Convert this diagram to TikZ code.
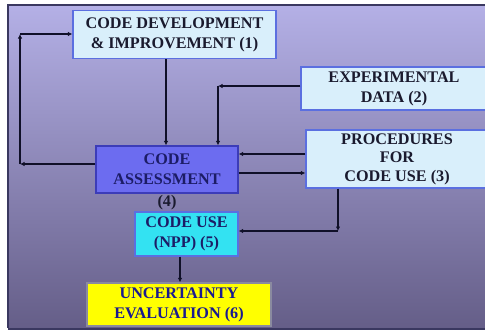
\documentclass[tikz,border=0pt]{standalone}
\usepackage{fontspec}
\setmainfont{Liberation Serif}
\usetikzlibrary{arrows.meta}
\definecolor{paneltop}{HTML}{B4B0E6}
\definecolor{panelbot}{HTML}{655E88}
\definecolor{panelrim}{HTML}{3A3860}
\definecolor{palefill}{HTML}{D9EFFB}
\definecolor{boxrim}{HTML}{5B6FE0}
\definecolor{assessfill}{HTML}{6C6CF0}
\definecolor{assessrim}{HTML}{3C3CB8}
\definecolor{usefill}{HTML}{33E2F2}
\definecolor{yellowfill}{HTML}{FFFF00}
\definecolor{yellowrim}{HTML}{8A8AA0}
\definecolor{inktext}{HTML}{1A1A2E}
\definecolor{navytext}{HTML}{1C1C66}
\definecolor{bluetext}{HTML}{1A1A90}
\definecolor{linkink}{HTML}{101028}
\tikzset{
  x=1pt, y=-1pt,
  boxfont/.style={font=\fontsize{16.2}{20}\selectfont\bfseries},
  box/.style={draw=boxrim, line width=1.2pt, fill=palefill, align=center,
    inner sep=0pt, text=inktext, boxfont},
  link/.style={draw=linkink, line width=1.9pt,
    -{Latex[length=4.5pt,width=4.5pt]}},
}
\begin{document}
\begin{tikzpicture}
\useasboundingbox (0,0) rectangle (485,330);
\fill[white] (0,0) rectangle (485,330);
% graded panel behind the chart
\shade[top color=paneltop, bottom color=panelbot] (8,5) rectangle (485,328);
\draw[panelrim, line width=1.5pt] (8,328) -- (8,5) -- (485,5);
\fill[panelrim] (8,328) rectangle (485,330);

% blocks
\node[box, minimum width=203pt, minimum height=48pt] (dev) at (174.5,34.5)
  {CODE DEVELOPMENT\\\& IMPROVEMENT (1)};
\node[box, minimum width=186pt, minimum height=43pt] (exp) at (394,88.5)
  {EXPERIMENTAL\\DATA (2)};
\node[box, minimum width=182pt, minimum height=58pt,
  font=\fontsize{16.2}{18.5}\selectfont\bfseries] (proc) at (397,159)
  {PROCEDURES\\FOR\\CODE USE (3)};
\node[box, fill=assessfill, draw=assessrim, text=navytext,
  minimum width=142pt, minimum height=47pt] (assess) at (167,169.5)
  {CODE\\ASSESSMENT};
\node[boxfont, text=inktext] (four) at (167,203) {(4)};
\node[box, fill=usefill, draw=boxrim, text=navytext,
  minimum width=103pt, minimum height=44pt] (use) at (186.5,234)
  {CODE USE\\(NPP) (5)};
\node[box, fill=yellowfill, draw=yellowrim, text=bluetext,
  minimum width=184pt, minimum height=43pt] (unc) at (179,304.5)
  {UNCERTAINTY\\EVALUATION (6)};

% bend points of the connectors
\coordinate (xd) at (166,0);
\coordinate (expbend) at (218,86);
\coordinate (loopbot) at (20,164);
\coordinate (looptop) at (20,34);
\coordinate (ya) at (0,154);
\coordinate (yb) at (0,173);
\coordinate (procbend) at (338,231);
\coordinate (xu) at (180,0);

% connectors
\draw[link] (dev.south -| xd) -- (assess.north -| xd);
\draw[link] (exp.west |- expbend) -- (expbend);
\draw[link] (expbend) -- (assess.north -| expbend);
\draw[link] (proc.west |- ya) -- (assess.east |- ya);
\draw[link] (assess.east |- yb) -- (proc.west |- yb);
\draw[link] (assess.west |- loopbot) -- (loopbot);
\draw[link] (loopbot) -- (looptop);
\draw[link] (looptop) -- (dev.west |- looptop);
\draw[link] (proc.south -| procbend) -- (procbend);
\draw[link] (procbend) -- (use.east |- procbend);
\draw[link] (use.south -| xu) -- (unc.north -| xu);
\end{tikzpicture}
\end{document}
